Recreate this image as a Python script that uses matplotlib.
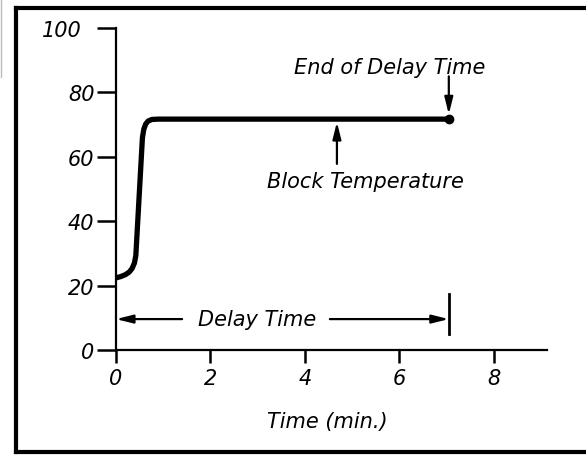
import matplotlib
matplotlib.use("Agg")
import matplotlib.pyplot as plt
from matplotlib.lines import Line2D
from matplotlib.transforms import ScaledTranslation

# block temperature curve
time = [0.0, 0.1, 0.2, 0.28, 0.34, 0.39, 0.42, 0.56, 0.59, 0.63, 0.68, 0.76, 0.9, 7.05]
temp = [22.4, 22.8, 23.4, 24.2, 25.3, 27.0, 29.3, 66.0, 68.6, 70.2, 71.1, 71.6, 71.7, 71.7]
delay_end = 7.05
x_ticks = [0, 2, 4, 6, 8]
y_ticks = [0, 20, 40, 60, 80, 100]

plt.rcParams['font.family'] = 'DejaVu Sans'
plt.rcParams['font.style'] = 'italic'

fig = plt.figure(figsize=(5.86, 4.56), dpi=100)
ax = fig.add_axes([116/586, 105/456, 431/586, 322/456])

# thick curve + dot at end of delay time
ax.plot(time, temp, color='black', lw=3.8, solid_capstyle='round', solid_joinstyle='round')
ax.plot([delay_end], [temp[-1]], 'o', color='black', ms=6)

ax.set_xlim(0, 9.13)
ax.set_ylim(0, 100)
ax.set_xticks(x_ticks)
ax.set_yticks(y_ticks)
for s in ['top', 'right']:
    ax.spines[s].set_visible(False)
for s in ['left', 'bottom']:
    ax.spines[s].set_linewidth(1.6)
ax.tick_params(axis='y', direction='out', length=14, width=1.8, pad=1.5, labelsize=15)
ax.tick_params(axis='x', direction='out', length=9, width=1.8, pad=4, labelsize=15)
# the "100" label sits a little further from its tick
lab100 = ax.get_yticklabels()[-1]
lab100.set_transform(lab100.get_transform() + ScaledTranslation(-9/72, 0, fig.dpi_scale_trans))

ax.set_xlabel('Time (min.)', fontsize=15)
ax.xaxis.set_label_coords(0.49, -0.19)

ahead = dict(arrowstyle='-|>,head_length=1.0,head_width=0.25', color='black', lw=1.6,
             shrinkA=0, shrinkB=0)

# End of Delay Time
ax.text(5.8, 88, 'End of Delay Time', fontsize=15, ha='center', va='center')
ax.annotate('', xy=(delay_end, 73.2), xytext=(delay_end, 85), arrowprops=ahead)

# Block Temperature
ax.text(5.28, 52.5, 'Block Temperature', fontsize=15, ha='center', va='center')
ax.annotate('', xy=(4.68, 70.8), xytext=(4.68, 57.8), arrowprops=ahead)

# Delay Time span
ax.text(2.98, 9.6, 'Delay Time', fontsize=15, ha='center', va='center')
ax.annotate('', xy=(0.0, 9.6), xytext=(1.4, 9.6), arrowprops=ahead)
ax.annotate('', xy=(delay_end, 9.6), xytext=(4.53, 9.6), arrowprops=ahead)
ax.plot([delay_end, delay_end], [5, 17.4], color='black', lw=2)

# outer frame (right side cut off in the scan)
W, H = 586, 456
for xs, ys in [([16, 600], [8.5, 8.5]), ([16, 16], [8.5, 453]), ([16, 600], [453, 453])]:
    fig.add_artist(Line2D([x / W for x in xs], [1 - y / H for y in ys],
                          color='black', lw=3, transform=fig.transFigure))
fig.add_artist(Line2D([0.8 / W, 0.8 / W], [1, 1 - 78 / H], color='#bbbbbb', lw=1,
                      transform=fig.transFigure))

fig.savefig('out.png', dpi=100)
